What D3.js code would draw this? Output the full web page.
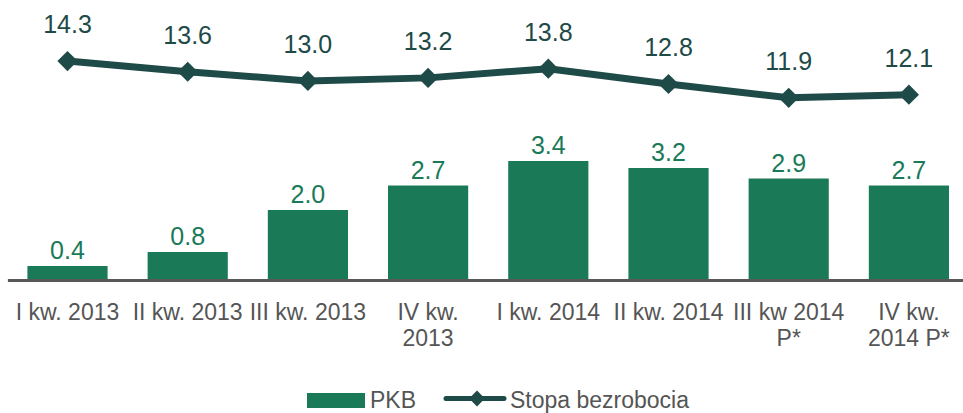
<!DOCTYPE html>
<html>
<head>
<meta charset="utf-8">
<script src="https://cdn.jsdelivr.net/npm/d3@7/dist/d3.min.js"></script>
<style>
  html, body { margin: 0; padding: 0; background: #fff; }
  svg { display: block; font-family: "Liberation Sans", Arial, sans-serif; }
</style>
</head>
<body>
<svg id="chart" width="963" height="413"></svg>
<script>
// ---- data ----
const categories = ["I kw. 2013", "II kw. 2013", "III kw. 2013", "IV kw.\n2013",
  "I kw. 2014", "II kw. 2014", "III kw 2014\nP*", "IV kw.\n2014 P*"];
const pkb = [0.4, 0.8, 2.0, 2.7, 3.4, 3.2, 2.9, 2.7];
const stopa = [14.3, 13.6, 13.0, 13.2, 13.8, 12.8, 11.9, 12.1];
const legendLabels = ["PKB", "Stopa bezrobocia"];

const BAR = "#1a7a58";
const LINE = "#1e4a48";
const AXIS = "#58585a";

const svg = d3.select("#chart");
const baseY = 280, topY = 35;

const x = d3.scaleBand().domain(categories).range([7.4, 969]).paddingInner(0.333).paddingOuter(0.1665);
const yBar = d3.scaleLinear().domain([0, 7]).range([baseY, topY]);
const yLine = d3.scaleLinear().domain([0, 16]).range([baseY, topY]);
const cx = (i) => x(categories[i]) + x.bandwidth() / 2;

// ---- bars ----
svg.append("g").selectAll("rect").data(pkb).join("rect")
  .attr("x", (d, i) => x(categories[i]))
  .attr("y", (d) => yBar(d))
  .attr("width", x.bandwidth())
  .attr("height", (d) => baseY - yBar(d))
  .attr("fill", BAR);

svg.append("g").selectAll("text").data(pkb).join("text")
  .attr("x", (d, i) => cx(i))
  .attr("y", (d) => yBar(d) - 7)
  .attr("text-anchor", "middle")
  .attr("font-size", 25)
  .attr("fill", BAR)
  .text((d) => d.toFixed(1));

// ---- x axis ----
const ax = svg.append("g").attr("transform", `translate(0,${baseY})`)
  .call(d3.axisBottom(x).tickSize(0).tickSizeOuter(0).tickFormat(""));
ax.select(".domain").attr("stroke", AXIS).attr("stroke-width", 3);

const lab = svg.append("g").selectAll("text").data(categories).join("text")
  .attr("text-anchor", "middle")
  .attr("font-size", 23)
  .attr("fill", "#555");
lab.each(function (d, i) {
  d3.select(this).selectAll("tspan").data(d.split("\n")).join("tspan")
    .attr("x", cx(i))
    .attr("y", (t, j) => 320 + j * 26)
    .text((t) => t);
});

// ---- line ----
const line = d3.line().x((d, i) => cx(i)).y((d) => yLine(d));
svg.append("path").datum(stopa)
  .attr("d", line)
  .attr("fill", "none")
  .attr("stroke", LINE)
  .attr("stroke-width", 7)
  .attr("stroke-linejoin", "round");

const diamond = d3.symbol().type(d3.symbolDiamond2);
svg.append("g").selectAll("path").data(stopa).join("path")
  .attr("transform", (d, i) => `translate(${cx(i)},${yLine(d)})`)
  .attr("d", diamond.size(260)())
  .attr("fill", LINE);

svg.append("g").selectAll("text").data(stopa).join("text")
  .attr("x", (d, i) => cx(i))
  .attr("y", (d) => yLine(d) - 28)
  .attr("text-anchor", "middle")
  .attr("font-size", 25)
  .attr("fill", LINE)
  .text((d) => d.toFixed(1));

// ---- legend ----
const lg = svg.append("g");
lg.append("rect").attr("x", 307).attr("y", 393).attr("width", 58).attr("height", 15).attr("fill", BAR);
lg.append("text").attr("x", 370).attr("y", 408).attr("font-size", 23).attr("fill", "#555").text(legendLabels[0]);
lg.append("line").attr("x1", 446).attr("x2", 504).attr("y1", 398.5).attr("y2", 398.5)
  .attr("stroke", LINE).attr("stroke-width", 5).attr("stroke-linecap", "round");
lg.append("path").attr("transform", "translate(477,398.5)").attr("d", diamond.size(160)()).attr("fill", LINE);
lg.append("text").attr("x", 510).attr("y", 408).attr("font-size", 23).attr("fill", "#555").text(legendLabels[1]);
</script>
</body>
</html>
